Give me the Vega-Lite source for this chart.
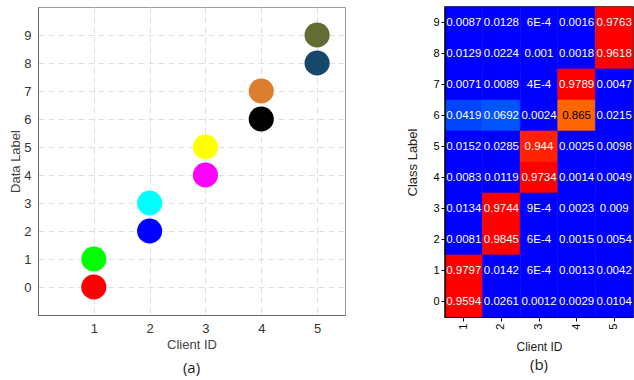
{
  "$schema": "https://vega.github.io/schema/vega-lite/v6.json",
  "padding": {"left": 9, "top": 5, "right": 0, "bottom": 0},
  "background": "white",
  "spacing": 60,
  "datasets": {
    "pts": [
      {"client": 5, "label": 9},
      {"client": 5, "label": 8},
      {"client": 4, "label": 7},
      {"client": 4, "label": 6},
      {"client": 3, "label": 5},
      {"client": 3, "label": 4},
      {"client": 2, "label": 3},
      {"client": 2, "label": 2},
      {"client": 1, "label": 1},
      {"client": 1, "label": 0}
    ],
    "cm": [
      {"cls": 9, "client": 1, "v": 0.0087, "t": "0.0087"},
      {"cls": 9, "client": 2, "v": 0.0128, "t": "0.0128"},
      {"cls": 9, "client": 3, "v": 0.0006, "t": "6E-4"},
      {"cls": 9, "client": 4, "v": 0.0016, "t": "0.0016"},
      {"cls": 9, "client": 5, "v": 0.9763, "t": "0.9763"},
      {"cls": 8, "client": 1, "v": 0.0129, "t": "0.0129"},
      {"cls": 8, "client": 2, "v": 0.0224, "t": "0.0224"},
      {"cls": 8, "client": 3, "v": 0.001, "t": "0.001"},
      {"cls": 8, "client": 4, "v": 0.0018, "t": "0.0018"},
      {"cls": 8, "client": 5, "v": 0.9618, "t": "0.9618"},
      {"cls": 7, "client": 1, "v": 0.0071, "t": "0.0071"},
      {"cls": 7, "client": 2, "v": 0.0089, "t": "0.0089"},
      {"cls": 7, "client": 3, "v": 0.0004, "t": "4E-4"},
      {"cls": 7, "client": 4, "v": 0.9789, "t": "0.9789"},
      {"cls": 7, "client": 5, "v": 0.0047, "t": "0.0047"},
      {"cls": 6, "client": 1, "v": 0.0419, "t": "0.0419"},
      {"cls": 6, "client": 2, "v": 0.0692, "t": "0.0692"},
      {"cls": 6, "client": 3, "v": 0.0024, "t": "0.0024"},
      {"cls": 6, "client": 4, "v": 0.865, "t": "0.865"},
      {"cls": 6, "client": 5, "v": 0.0215, "t": "0.0215"},
      {"cls": 5, "client": 1, "v": 0.0152, "t": "0.0152"},
      {"cls": 5, "client": 2, "v": 0.0285, "t": "0.0285"},
      {"cls": 5, "client": 3, "v": 0.944, "t": "0.944"},
      {"cls": 5, "client": 4, "v": 0.0025, "t": "0.0025"},
      {"cls": 5, "client": 5, "v": 0.0098, "t": "0.0098"},
      {"cls": 4, "client": 1, "v": 0.0083, "t": "0.0083"},
      {"cls": 4, "client": 2, "v": 0.0119, "t": "0.0119"},
      {"cls": 4, "client": 3, "v": 0.9734, "t": "0.9734"},
      {"cls": 4, "client": 4, "v": 0.0014, "t": "0.0014"},
      {"cls": 4, "client": 5, "v": 0.0049, "t": "0.0049"},
      {"cls": 3, "client": 1, "v": 0.0134, "t": "0.0134"},
      {"cls": 3, "client": 2, "v": 0.9744, "t": "0.9744"},
      {"cls": 3, "client": 3, "v": 0.0009, "t": "9E-4"},
      {"cls": 3, "client": 4, "v": 0.0023, "t": "0.0023"},
      {"cls": 3, "client": 5, "v": 0.009, "t": "0.009"},
      {"cls": 2, "client": 1, "v": 0.0081, "t": "0.0081"},
      {"cls": 2, "client": 2, "v": 0.9845, "t": "0.9845"},
      {"cls": 2, "client": 3, "v": 0.0006, "t": "6E-4"},
      {"cls": 2, "client": 4, "v": 0.0015, "t": "0.0015"},
      {"cls": 2, "client": 5, "v": 0.0054, "t": "0.0054"},
      {"cls": 1, "client": 1, "v": 0.9797, "t": "0.9797"},
      {"cls": 1, "client": 2, "v": 0.0142, "t": "0.0142"},
      {"cls": 1, "client": 3, "v": 0.0006, "t": "6E-4"},
      {"cls": 1, "client": 4, "v": 0.0013, "t": "0.0013"},
      {"cls": 1, "client": 5, "v": 0.0042, "t": "0.0042"},
      {"cls": 0, "client": 1, "v": 0.9594, "t": "0.9594"},
      {"cls": 0, "client": 2, "v": 0.0261, "t": "0.0261"},
      {"cls": 0, "client": 3, "v": 0.0012, "t": "0.0012"},
      {"cls": 0, "client": 4, "v": 0.0029, "t": "0.0029"},
      {"cls": 0, "client": 5, "v": 0.0104, "t": "0.0104"}
    ]
  },
  "hconcat": [
    {
      "width": 307,
      "height": 308,
      "data": {"name": "pts"},
      "title": {"text": "(a)", "orient": "bottom", "font": "Open Sans", "fontSize": 15, "fontWeight": "normal", "color": "#222", "offset": 10},
      "view": {"stroke": "#999", "strokeWidth": 1},
      "mark": {"type": "circle", "size": 630, "opacity": 1},
      "encoding": {
        "x": {
          "field": "client", "type": "quantitative",
          "scale": {"domain": [0, 5.5], "nice": false, "zero": false},
          "axis": {"values": [1, 2, 3, 4, 5], "title": "Client ID", "grid": true, "gridDash": [6, 4], "gridColor": "#dedede",
                   "ticks": false, "labelPadding": 7, "domainColor": "#666", "labelColor": "#333", "titleColor": "#444",
                   "labelFont": "Liberation Sans", "titleFont": "Liberation Sans", "labelFontSize": 13, "titleFontSize": 13, "titleFontWeight": "normal", "titlePadding": 3}
        },
        "y": {
          "field": "label", "type": "quantitative",
          "scale": {"domain": [-1, 10], "nice": false, "zero": false},
          "axis": {"values": [0, 1, 2, 3, 4, 5, 6, 7, 8, 9], "title": "Data Label", "grid": true, "gridDash": [6, 4], "gridColor": "#dedede",
                   "ticks": false, "labelPadding": 7, "domainColor": "#666", "labelColor": "#333", "titleColor": "#444",
                   "labelFont": "Liberation Sans", "titleFont": "Liberation Sans", "labelFontSize": 13, "titleFontSize": 13, "titleFontWeight": "normal", "titlePadding": 1}
        },
        "color": {
          "field": "label", "type": "nominal",
          "scale": {"domain": [0, 1, 2, 3, 4, 5, 6, 7, 8, 9],
                    "range": ["#ff0000", "#00ff00", "#0000ff", "#00ffff", "#ff00ff", "#ffff00", "#000000", "#dc7e2f", "#17476b", "#646b33"]},
          "legend": null
        }
      }
    },
    {
      "width": 188,
      "height": 310,
      "data": {"name": "cm"},
      "title": {"text": "(b)", "orient": "bottom", "font": "Open Sans", "fontSize": 15, "fontWeight": "normal", "color": "#222", "offset": 6},
      "view": {"stroke": "#000", "strokeWidth": 1.5},
      "encoding": {
        "x": {
          "field": "client", "type": "ordinal",
          "scale": {"paddingInner": 0, "paddingOuter": 0},
          "axis": {"labelAngle": -90, "title": "Client ID", "domainColor": "#000", "tickColor": "#000", "labelColor": "#000", "titleColor": "#222",
                   "labelFont": "Liberation Sans", "titleFont": "Liberation Sans", "labelFontSize": 11, "titleFontSize": 12, "titleFontWeight": "normal", "titlePadding": 12, "tickSize": 4}
        },
        "y": {
          "field": "cls", "type": "ordinal", "sort": "descending",
          "scale": {"paddingInner": 0, "paddingOuter": 0},
          "axis": {"labelAngle": 0, "title": "Class Label", "domainColor": "#000", "tickColor": "#000", "labelColor": "#000", "titleColor": "#222",
                   "labelFont": "Liberation Sans", "titleFont": "Liberation Sans", "labelFontSize": 11, "titleFontSize": 13, "titleFontWeight": "normal", "titlePadding": 13, "tickSize": 4}
        }
      },
      "layer": [
        {
          "mark": {"type": "rect", "strokeWidth": 0.6},
          "encoding": {
            "color": {
              "field": "v", "type": "quantitative",
              "scale": {"domain": [0, 0.03, 0.0419, 0.0692, 0.865, 0.944, 0.96],
                        "range": ["#0000ff", "#0000ff", "#0044ff", "#0055ff", "#ff6600", "#ff2200", "#ff0000"],
                        "interpolate": "rgb", "clamp": true},
              "legend": null
            },
            "stroke": {
              "field": "v", "type": "quantitative",
              "scale": {"domain": [0, 0.03, 0.0419, 0.0692, 0.865, 0.944, 0.96],
                        "range": ["#0000ff", "#0000ff", "#0044ff", "#0055ff", "#ff6600", "#ff2200", "#ff0000"],
                        "interpolate": "rgb", "clamp": true},
              "legend": null
            }
          }
        },
        {
          "mark": {"type": "text", "font": "Liberation Sans", "fontSize": 11.5},
          "encoding": {
            "text": {"field": "t"},
            "color": {"condition": {"test": "datum.v > 0.8 && datum.v < 0.9", "value": "#000000"}, "value": "#ffffff"}
          }
        }
      ]
    }
  ]
}
